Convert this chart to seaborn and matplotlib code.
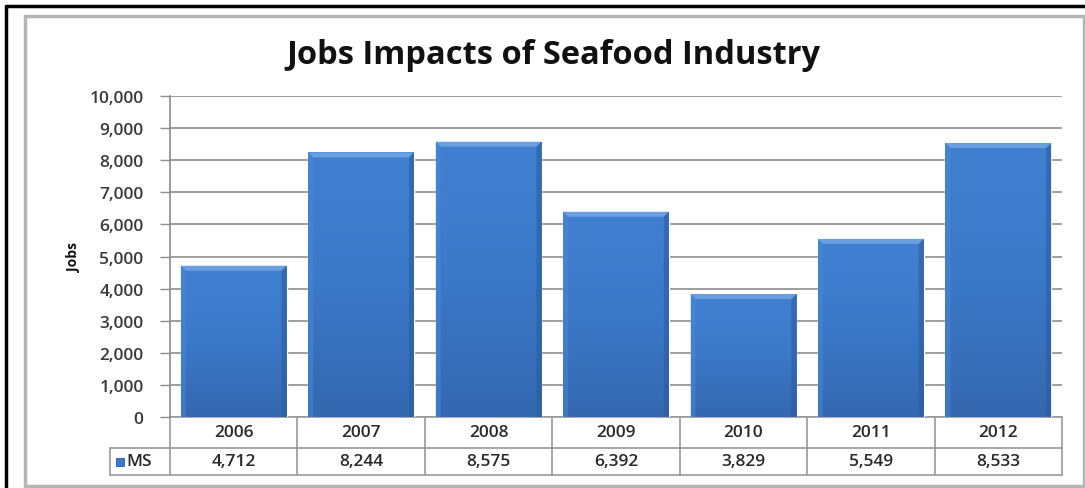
import numpy as np
import pandas as pd
import matplotlib
matplotlib.use("Agg")
import matplotlib.pyplot as plt
from matplotlib.patches import Rectangle, Polygon
from matplotlib.colors import LinearSegmentedColormap
import matplotlib.transforms as mtransforms
import seaborn as sns

years = ["2006", "2007", "2008", "2009", "2010", "2011", "2012"]
jobs = [4712, 8244, 8575, 6392, 3829, 5549, 8533]
series_name = "MS"
title = "Jobs Impacts of Seafood Industry"
y_label = "Jobs"
y_ticks = list(range(0, 10001, 1000))

sns.set_theme(style="white")
plt.rcParams["font.family"] = ["Open Sans", "DejaVu Sans"]

W, H = 1085, 489
fig = plt.figure(figsize=(W / 100, H / 100), dpi=100)
fig.patch.set_facecolor("white")

# plot area in pixel terms
px_left, px_right, px_top, px_bottom = 170, 1062, 97, 418
ax = fig.add_axes([px_left / W, 1 - px_bottom / H,
                   (px_right - px_left) / W, (px_bottom - px_top) / H])

df = pd.DataFrame({"year": years, "jobs": jobs})
base = "#3b79c9"
sns.barplot(data=df, x="year", y="jobs", color=base, saturation=1,
            width=0.83, ax=ax, zorder=3)

ax.set_xlim(-0.5, len(years) - 0.5)
ax.set_ylim(0, 10000)
ax.set_yticks(y_ticks)
ax.set_yticklabels([f"{v:,}" for v in y_ticks], fontsize=12.5, color="#3a3a3a",
                   fontweight="semibold")
ax.set_xticks([])
ax.set_xlabel("")
ax.set_ylabel(y_label, fontsize=10, fontweight="bold", color="#111111")
ax.yaxis.set_label_coords((81 - px_left) / (px_right - px_left), 0.5)
ax.tick_params(axis="y", length=7, width=1, color="#8c8c8c", pad=12, left=True)
for s in ["top", "right", "bottom"]:
    ax.spines[s].set_visible(False)
ax.spines["left"].set_color("#8c8c8c")
ax.spines["left"].set_linewidth(1.2)
ax.yaxis.grid(True, color="#959595", linewidth=1.3, zorder=0)
ax.set_axisbelow(True)

# vertical shading and bevel on each bar
grad = LinearSegmentedColormap.from_list("bar", ["#3468b0", "#3b78c8", "#4180d1"])
px_to_x = (len(years)) / (px_right - px_left)
px_to_y = 10000 / (px_bottom - px_top)
bev_x, bev_y = 5 * px_to_x, 5 * px_to_y
for p in ax.patches:
    x0, y0 = p.get_x(), p.get_y()
    w, h = p.get_width(), p.get_height()
    im = ax.imshow(np.linspace(0, 1, 256).reshape(-1, 1), cmap=grad, aspect="auto",
                   extent=(x0, x0 + w, y0, y0 + h), origin="lower", zorder=3.5)
    im.set_clip_path(p)
    x1, y1 = x0 + w, y0 + h
    top = Polygon([(x0, y1), (x1, y1), (x1 - bev_x, y1 - bev_y), (x0 + bev_x, y1 - bev_y)],
                  closed=True, facecolor="#6a9fe0", edgecolor="none", zorder=4)
    left = Polygon([(x0, y0), (x0, y1), (x0 + bev_x, y1 - bev_y), (x0 + bev_x, y0)],
                   closed=True, facecolor="#4a8ad6", edgecolor="none", zorder=4, alpha=0.5)
    right = Polygon([(x1, y0), (x1, y1), (x1 - bev_x, y1 - bev_y), (x1 - bev_x, y0)],
                    closed=True, facecolor="#2a5a9a", edgecolor="none", zorder=4, alpha=0.55)
    for poly in (top, left, right):
        ax.add_patch(poly)
ax.set_xlim(-0.5, len(years) - 0.5)
ax.set_ylim(0, 10000)

# data table under the axis
tr = mtransforms.blended_transform_factory(ax.transData, fig.transFigure)
def fy(py):
    return 1 - py / H
row1_top, row_mid, row2_bot = 418, 449, 476
x_first, x_last = -0.5, len(years) - 0.5
x_key = -0.5 - (px_left - 110) * px_to_x
line_kw = dict(color="#9a9a9a", linewidth=1.2, transform=tr, clip_on=False)
ax.plot([x_first, x_last], [fy(row1_top)] * 2, **line_kw)
ax.plot([x_key, x_last], [fy(row_mid)] * 2, **line_kw)
ax.plot([x_key, x_last], [fy(row2_bot)] * 2, **line_kw)
ax.plot([x_key, x_key], [fy(row_mid), fy(row2_bot)], **line_kw)
for i in range(len(years) + 1):
    xb = i - 0.5
    ax.plot([xb, xb], [fy(row1_top), fy(row2_bot)], **line_kw)
txt_kw = dict(transform=tr, va="center", fontsize=12.5, color="#2a2a2a",
              fontweight="semibold")
for i, (yr, v) in enumerate(zip(years, jobs)):
    ax.text(i, fy((row1_top + row_mid) / 2), yr, ha="center", **txt_kw)
    ax.text(i, fy((row_mid + row2_bot) / 2), f"{v:,}", ha="center", **txt_kw)
# series key
key_x = x_key + 6 * px_to_x
ax.add_patch(Rectangle((key_x, fy(467)), 8 * px_to_x, 8 / H, transform=tr,
                       facecolor=base, edgecolor="#2a5a9a", linewidth=0.6, clip_on=False))
ax.text(key_x + 10 * px_to_x, fy((row_mid + row2_bot) / 2), series_name, ha="left",
        **txt_kw)

# title
fig.text(553 / W, 1 - 55 / H, title, ha="center", va="center",
         fontsize=23.5, fontweight="bold", color="#111111")

# chart-area frame and outer border
fig.add_artist(Rectangle((25 / W, 1 - 487 / H), (1084 - 25) / W, (487 - 17) / H,
                         transform=fig.transFigure, fill=False,
                         edgecolor="#b5b5b5", linewidth=2.5))
fig.add_artist(plt.Line2D([6 / W, 1], [1 - 7 / H] * 2, transform=fig.transFigure,
                          color="black", linewidth=2.5))
fig.add_artist(plt.Line2D([6 / W] * 2, [0, 1 - 7 / H], transform=fig.transFigure,
                          color="black", linewidth=2.5))

fig.savefig("out.png", dpi=100, facecolor="white")
